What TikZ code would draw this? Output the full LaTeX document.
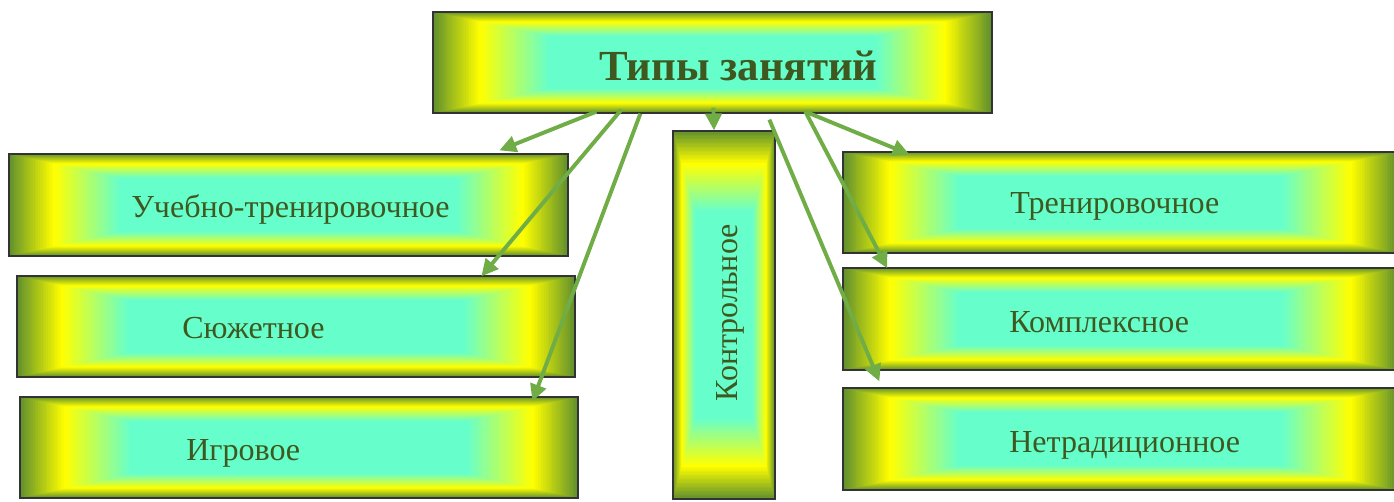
\documentclass[tikz,border=0pt]{standalone}
\usepackage{fontspec}
\setmainfont{Liberation Serif}
\usetikzlibrary{arrows.meta, calc}

\definecolor{edgegreen}{RGB}{98,145,45}
\definecolor{midyellow}{RGB}{255,255,0}
\definecolor{coreaqua}{RGB}{102,255,204}
\definecolor{textgreen}{RGB}{62,88,32}
\definecolor{arrowgreen}{RGB}{112,173,71}
\newcommand{\pix}{0.025cm}

\begin{document}
\begin{tikzpicture}
    [
        x=\pix, y=-\pix,
        gradx/.store in=\gradx, grady/.store in=\grady, gradx=110, grady=24,
        grad_box/.style={draw=black!80, line width=0.9pt, inner sep=0pt,
            path picture={
                \foreach \k in {0,...,24} {
                    \pgfmathsetmacro{\ins}{0.4*\k/24}
                    \pgfmathsetmacro{\pc}{100*\k/24}
                    \colorlet{gc}{midyellow!\pc!edgegreen}
                    \fill[gc] ($(path picture bounding box.south west)+(\ins*\gradx,-\ins*\grady)$) rectangle ($(path picture bounding box.north east)+(-\ins*\gradx,\ins*\grady)$) ;
                }
                \foreach \k in {1,...,30} {
                    \pgfmathsetmacro{\ins}{0.4+0.6*\k/30}
                    \pgfmathsetmacro{\pc}{100*\k/30}
                    \colorlet{gc}{coreaqua!\pc!midyellow}
                    \fill[gc] ($(path picture bounding box.south west)+(\ins*\gradx,-\ins*\grady)$) rectangle ($(path picture bounding box.north east)+(-\ins*\gradx,\ins*\grady)$) ;
                }
            }},
        box_text/.style={text=textgreen, inner sep=0pt, font=\fontsize{22.8}{27}\selectfont},
        title_text/.style={text=textgreen, inner sep=0pt, font=\fontsize{30.5}{36}\selectfont\bfseries},
        green_arrow/.style={draw=arrowgreen, line width=2.8pt, -{Triangle[length=12pt, width=11.5pt]}},
    ]
        \useasboundingbox (0,0) rectangle (1394,501) ;
        % boxes
        \node[grad_box, minimum width=559*\pix, minimum height=101*\pix, gradx=115] (title) at (712.5,62.5) {} ;
        \node[grad_box, minimum width=559*\pix, minimum height=102*\pix] (ucheb) at (288.5,205) {} ;
        \node[grad_box, minimum width=558*\pix, minimum height=101*\pix] (sjuzh) at (296,326.5) {} ;
        \node[grad_box, minimum width=558*\pix, minimum height=101*\pix] (igr) at (299,447.5) {} ;
        \node[grad_box, minimum width=102*\pix, minimum height=368*\pix, gradx=22, grady=80] (kontr) at (724,315) {} ;
        \node[grad_box, minimum width=555*\pix, minimum height=101*\pix, gradx=115] (trenir) at (1120.5,202.5) {} ;
        \node[grad_box, minimum width=555*\pix, minimum height=102*\pix, gradx=115] (kompl) at (1120.5,319) {} ;
        \node[grad_box, minimum width=555*\pix, minimum height=102*\pix, gradx=115] (netrad) at (1120.5,439) {} ;
        % texts
        \node[title_text, anchor=base west] (title_t) at (599,80) {Типы занятий} ;
        \node[box_text, anchor=base west] (ucheb_t) at (131,217) {Учебно-тренировочное} ;
        \node[box_text, anchor=base west] (sjuzh_t) at (182,338) {Сюжетное} ;
        \node[box_text, anchor=base west] (igr_t) at (186,460) {Игровое} ;
        \node[box_text, anchor=base west, rotate=90] (kontr_t) at (737,402) {Контрольное} ;
        \node[box_text, anchor=base west] (trenir_t) at (1010,213) {Тренировочное} ;
        \node[box_text, anchor=base west] (kompl_t) at (1009,332) {Комплексное} ;
        \node[box_text, anchor=base west] (netrad_t) at (1009,452) {Нетрадиционное} ;
        % arrows
        \draw[green_arrow] ($(title.south west)+(164,-2)$) -- ($(ucheb.north west)+(491,-3)$) ;
        \draw[green_arrow] ($(title.south west)+(189,-4)$) -- ($(sjuzh.north west)+(465,1)$) ;
        \draw[green_arrow] ($(title.south west)+(208,0)$) -- ($(igr.north west)+(513,5)$) ;
        \draw[green_arrow] ($(title.south west)+(281,-6)$) -- ($(kontr.north)+(-10,0)$) ;
        \draw[green_arrow] ($(title.south west)+(337,6)$) -- ($(netrad.north west)+(37,-6)$) ;
        \draw[green_arrow] ($(title.south west)+(373,-2)$) -- ($(kompl.north west)+(45,1)$) ;
        \draw[green_arrow] ($(title.south west)+(373,-2)$) -- ($(trenir.north west)+(67,3)$) ;
    \end{tikzpicture}
\end{document}
